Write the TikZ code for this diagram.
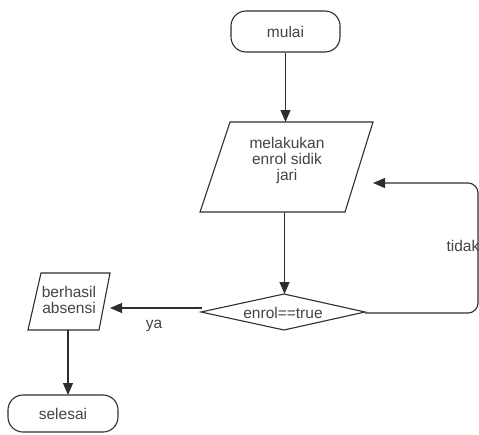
\documentclass[tikz,border=0pt]{standalone}
\usepackage{fontspec}
\setmainfont{Liberation Sans}
\usetikzlibrary{arrows.meta}
\definecolor{linec}{HTML}{2E2E2E}
\definecolor{txtc}{HTML}{444444}
\begin{document}
\begin{tikzpicture}[x=1pt,y=-1pt,
  line/.style={draw=linec, line width=1.1pt},
  arr/.style={line, -{Triangle[length=12pt,width=10pt]}},
  txt/.style={text=txtc, font=\fontsize{15.5}{16}\selectfont, align=center, inner sep=0pt},
  term/.style={line, rounded corners=15pt, text=txtc, font=\fontsize{15.5}{16}\selectfont, inner sep=0pt}
]
\useasboundingbox (0,0) rectangle (479,434);
% start
\node[term, minimum width=109pt, minimum height=41pt] (mulai) at (285.5,31.5) {mulai};
% input parallelogram
\draw[line] (230,122) -- (373,122) -- (345,212) -- (200,212) -- cycle;
\node[txt] (enrol) at (287,160) {melakukan\\enrol sidik\\jari};
\coordinate (enrolT) at (285.5,122);
\coordinate (enrolB) at (284.5,212);
\coordinate (loopEnd) at (373,183);
% decision
\draw[line] (201,312) -- (284,294) -- (365,312) -- (284,330) -- cycle;
\node[txt] (dec) at (283,313) {enrol==true};
\coordinate (decT) at (284.5,294);
\coordinate (decR) at (365,313);
\coordinate (decL) at (202,308);
% output parallelogram
\draw[line] (41,273) -- (110,273) -- (99,330) -- (28,330) -- cycle;
\node[txt] (ber) at (69,300) {berhasil\\absensi};
\coordinate (berR) at (110,308);
\coordinate (berB) at (68,330);
% end
\node[term, minimum width=110pt, minimum height=37pt] (selesai) at (63,413.5) {selesai};
\coordinate (selT) at (68,395);
% connectors
\draw[arr] (mulai.south) -- (enrolT);
\draw[arr] (enrolB) -- (decT);
\draw[arr, rounded corners=10pt] (decR) -- (478,313) -- (478,183) -- (loopEnd);
\node[txt, anchor=east] (tidak) at (479.5,246) {tidak};
\draw[arr] (decL) -- (berR);
\node[txt] (ya) at (154,326) {ya};
\draw[arr] (berB) -- (selT);
\end{tikzpicture}
\end{document}
